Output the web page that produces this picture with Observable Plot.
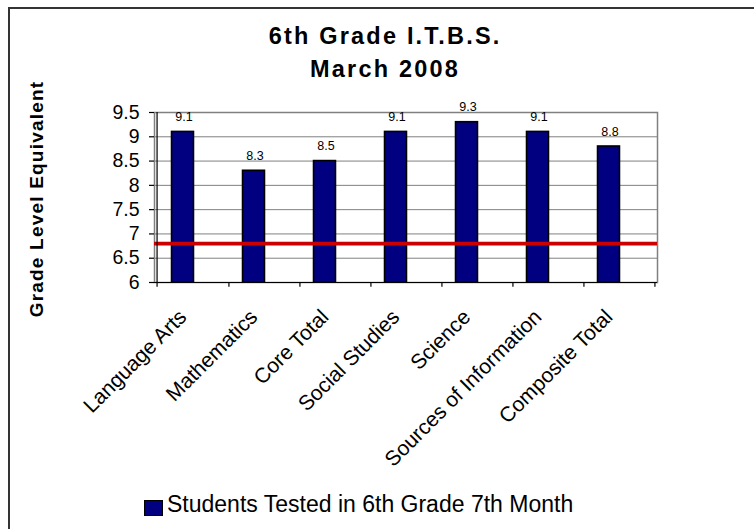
<!DOCTYPE html>
<html>
<head>
<meta charset="utf-8">
<script src="https://cdn.jsdelivr.net/npm/d3@7"></script>
<script src="https://cdn.jsdelivr.net/npm/@observablehq/plot@0.6"></script>
<style>
  html, body { margin: 0; padding: 0; background: #fff; }
  #wrap { position: relative; width: 754px; height: 529px; overflow: hidden; font-family: "Liberation Sans", Arial, sans-serif; }
  #border { position: absolute; left: 8px; top: 7px; width: 800px; height: 600px; border: 2px solid #333; box-sizing: border-box; }
  #chart { position: absolute; left: 0; top: 0; }
  .title { position: absolute; left: 0; width: 768px; text-align: center; font-weight: bold; font-size: 23.5px; letter-spacing: 2.2px; padding-left: 2.2px; box-sizing: border-box; white-space: nowrap; line-height: 1; }
  #ylab { position: absolute; left: 36px; top: 199px; transform: translate(-50%, -50%) rotate(-90deg); font-weight: bold; font-size: 19px; letter-spacing: 1.2px; white-space: nowrap; line-height: 1; }
  #legend { position: absolute; left: 144px; top: 491px; display: flex; align-items: center; font-size: 23px; white-space: nowrap; }
  #legend .sw { width: 17px; height: 14px; background: #000080; border: 1px solid #000; margin-right: 4px; margin-top: 6px; }
</style>
</head>
<body>
<div id="wrap">
  <div id="border"></div>
  <div id="chart"></div>
  <div class="title" id="t1" style="top:25px">6th Grade I.T.B.S.</div>
  <div class="title" id="t2" style="top:58px">March 2008</div>
  <div id="ylab">Grade Level Equivalent</div>
  <div id="legend"><div class="sw"></div><span id="legtext"></span></div>
</div>
<script>
const categories = ["Language Arts", "Mathematics", "Core Total", "Social Studies", "Science", "Sources of Information", "Composite Total"];
const scores = [9.1, 8.3, 8.5, 9.1, 9.3, 9.1, 8.8];
const benchmark = [6.8];
const yTicks = [6, 6.5, 7, 7.5, 8, 8.5, 9, 9.5];
const seriesName = "Students Tested in 6th Grade 7th Month";

document.getElementById("legtext").textContent = seriesName;

const data = categories.map((c, i) => ({category: c, value: scores[i]}));

const W = 754, H = 529;
const mL = 154, mR = 97, mT = 112, mB = 247;
const step = (W - mL - mR) / categories.length;
const half = step / 2;

const chart = Plot.plot({
  width: W,
  height: H,
  marginLeft: mL,
  marginRight: mR,
  marginTop: mT,
  marginBottom: mB,
  style: {fontFamily: "Liberation Sans, Arial, sans-serif", background: "transparent", color: "#000"},
  x: {domain: categories, padding: 0, axis: null, label: null},
  y: {domain: [6, 9.5], axis: null, label: null},
  marks: [
    Plot.gridY(yTicks.filter(d => d > 6 && d < 9.5), {stroke: "#808080", strokeOpacity: 1, strokeWidth: 1}),
    Plot.frame({stroke: "#808080", strokeWidth: 1.5}),
    Plot.barY(data, {x: "category", y1: 6, y2: "value", fill: "#000080", stroke: "#000", strokeWidth: 1.6, insetLeft: half - 11.4 - 10, insetRight: half - 11.4 + 10}),
    Plot.ruleY(benchmark, {stroke: "#cc0000", strokeWidth: 3.7}),
    Plot.ruleY([6], {stroke: "#000", strokeWidth: 1.2}),
    Plot.ruleX([categories[0]], {dx: -half, y1: 9.5, y2: 5.9, stroke: "#000", strokeWidth: 1.2}),
    Plot.ruleX(categories, {dx: half, y1: 6, y2: 5.9, stroke: "#000", strokeWidth: 1.2}),
    Plot.axisY(yTicks, {label: null, tickSize: 5, tickPadding: 10, fontSize: 19.5, tickFormat: d => String(d), stroke: "#000", strokeWidth: 1.2}),
    Plot.text(data, {x: "category", y: "value", text: d => String(d.value), dx: -9, dy: -15, fontSize: 12.5, fill: "#000"}),
    Plot.text(categories, {x: d => d, frameAnchor: "bottom", dx: -10, dy: 31, rotate: -45, textAnchor: "end", lineAnchor: "middle", fontSize: 21, fill: "#000"})
  ]
});
document.getElementById("chart").appendChild(chart);
</script>
</body>
</html>
